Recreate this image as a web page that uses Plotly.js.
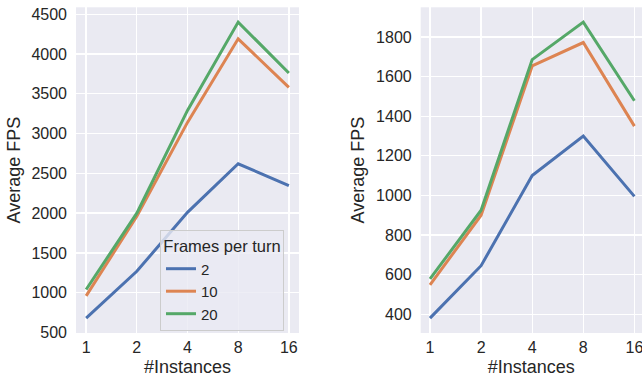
<!DOCTYPE html>
<html>
<head>
<meta charset="utf-8">
<script src="https://cdn.plot.ly/plotly-3.0.1.min.js"></script>
<style>html,body{margin:0;padding:0;overflow:hidden;background:#fff}</style>
</head>
<body>
<div id="chart" style="width:642px;height:377px"></div>
<script>
const instances = ["1", "2", "4", "8", "16"];
const framesPerTurn = ["2", "10", "20"];
const leftFps2 = [680, 1270, 2010, 2620, 2345];
const leftFps10 = [960, 1960, 3140, 4190, 3580];
const leftFps20 = [1040, 2000, 3290, 4400, 3760];
const rightFps2 = [380, 645, 1100, 1300, 995];
const rightFps10 = [548, 900, 1654, 1772, 1350];
const rightFps20 = [578, 925, 1686, 1875, 1478];
const colors = ["#4c72b0", "#dd8452", "#55a868"];

const leftSeries = [leftFps2, leftFps10, leftFps20];
const rightSeries = [rightFps2, rightFps10, rightFps20];
const traces = [];
leftSeries.forEach((ys, i) => traces.push({
  x: instances, y: ys, xaxis: "x", yaxis: "y", type: "scatter", mode: "lines",
  name: framesPerTurn[i], line: {color: colors[i], width: 3}, showlegend: true
}));
rightSeries.forEach((ys, i) => traces.push({
  x: instances, y: ys, xaxis: "x2", yaxis: "y2", type: "scatter", mode: "lines",
  name: framesPerTurn[i], line: {color: colors[i], width: 3}, showlegend: false
}));

const font = {family: "Liberation Sans, Arial, sans-serif", color: "#262626"};
const tickFont = Object.assign({}, font, {size: 16});
const titleFont = Object.assign({}, font, {size: 18});
const yTop = 1 - 7.3 / 377, yBot = 1 - 333 / 377;

function xax(domain, range) {
  return {domain: domain, type: "category", range: range, showgrid: true, gridcolor: "#ffffff",
    gridwidth: 1.3, zeroline: false, showline: false, ticks: "", tickfont: tickFont,
    ticklabelstandoff: 3,
    title: {text: "#Instances", font: titleFont, standoff: 9}, automargin: false, fixedrange: true};
}
function yax(domain, range, anchor, dtick) {
  return {domain: domain, range: range, anchor: anchor, showgrid: true, gridcolor: "#ffffff",
    gridwidth: 1.3, zeroline: false, showline: false, ticks: "", tickfont: tickFont, dtick: dtick,
    ticklabelstandoff: 8,
    title: {text: "Average FPS", font: titleFont, standoff: 6}, automargin: false, fixedrange: true};
}

const layout = {
  width: 642, height: 377,
  margin: {l: 0, r: 0, t: 0, b: 0},
  paper_bgcolor: "#ffffff", plot_bgcolor: "#eaeaf2",
  font: font,
  xaxis: Object.assign(xax([76 / 642, 299 / 642], [-0.2, 4.2]), {anchor: "y"}),
  yaxis: yax([yBot, yTop], [494, 4586], "x", 500),
  xaxis2: Object.assign(xax([420.7 / 642, 1], [-0.182, 4.149]), {anchor: "y2"}),
  yaxis2: yax([yBot, yTop], [305, 1950], "x2", 200),
  legend: {
    x: 160 / 642, y: 1 - 230 / 377, xanchor: "left", yanchor: "top",
    bgcolor: "rgba(234,234,242,0.8)", bordercolor: "#cccccc", borderwidth: 1,
    font: Object.assign({}, font, {size: 15}),
    title: {text: "Frames per turn", side: "top center", font: Object.assign({}, font, {size: 16.5})},
    itemwidth: 30
  },
  showlegend: true
};

Plotly.newPlot("chart", traces, layout, {displayModeBar: false, staticPlot: true});
</script>
</body>
</html>
